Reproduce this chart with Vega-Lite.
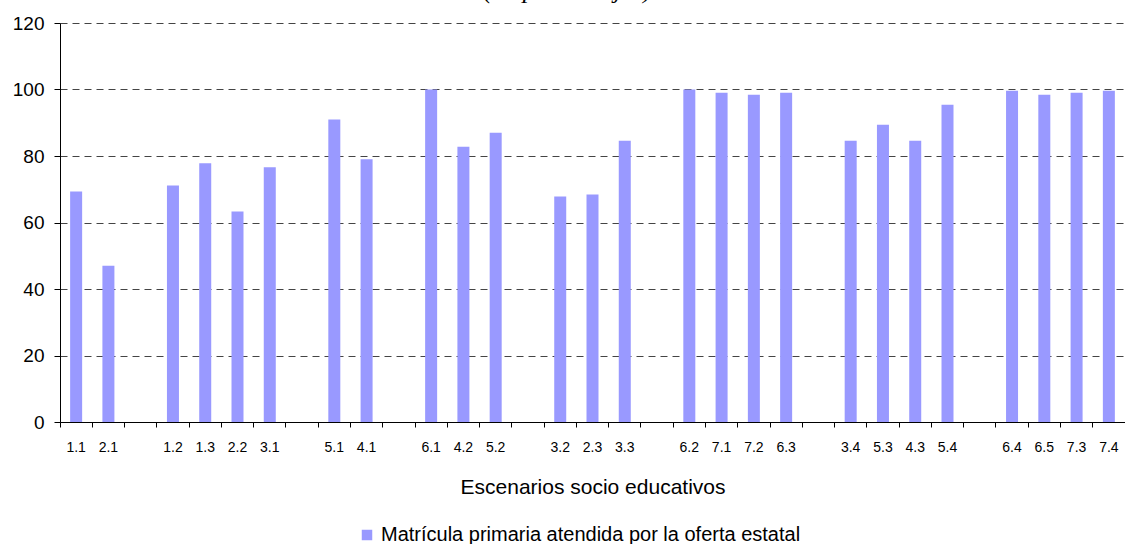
{
  "$schema": "https://vega.github.io/schema/vega-lite/v6.json",
  "width": 1065,
  "height": 399,
  "autosize": {"type": "none"},
  "padding": {"left": 60, "top": 23, "right": 0, "bottom": 122},
  "background": "white",
  "title": {
    "text": "(en porcentajes)",
    "font": "Liberation Serif",
    "fontStyle": "italic",
    "fontWeight": "normal",
    "fontSize": 26,
    "color": "black",
    "baseline": "alphabetic",
    "offset": -10,
    "dx": -25
  },
  "data": {
    "values": [
      {"escenario": "1.1", "valor": 69.3},
      {"escenario": "2.1", "valor": 47.0},
      {"escenario": "1.2", "valor": 71.1},
      {"escenario": "1.3", "valor": 77.8},
      {"escenario": "2.2", "valor": 63.3},
      {"escenario": "3.1", "valor": 76.6},
      {"escenario": "5.1", "valor": 91.0},
      {"escenario": "4.1", "valor": 79.0},
      {"escenario": "6.1", "valor": 100.0},
      {"escenario": "4.2", "valor": 82.8},
      {"escenario": "5.2", "valor": 87.0},
      {"escenario": "3.2", "valor": 67.8},
      {"escenario": "2.3", "valor": 68.4},
      {"escenario": "3.3", "valor": 84.6},
      {"escenario": "6.2", "valor": 100.0},
      {"escenario": "7.1", "valor": 99.0},
      {"escenario": "7.2", "valor": 98.4},
      {"escenario": "6.3", "valor": 99.0},
      {"escenario": "3.4", "valor": 84.6},
      {"escenario": "5.3", "valor": 89.4},
      {"escenario": "4.3", "valor": 84.6},
      {"escenario": "5.4", "valor": 95.4},
      {"escenario": "6.4", "valor": 99.6},
      {"escenario": "6.5", "valor": 98.4},
      {"escenario": "7.3", "valor": 99.0},
      {"escenario": "7.4", "valor": 99.6}
    ]
  },
  "mark": {"type": "bar", "size": 12},
  "encoding": {
    "x": {
      "field": "escenario",
      "type": "nominal",
      "scale": {
        "domain": ["1.1", "2.1", "g1", "1.2", "1.3", "2.2", "3.1", "g2", "5.1", "4.1", "g3", "6.1", "4.2", "5.2", "g4", "3.2", "2.3", "3.3", "g5", "6.2", "7.1", "7.2", "6.3", "g6", "3.4", "5.3", "4.3", "5.4", "g7", "6.4", "6.5", "7.3", "7.4"],
        "paddingInner": 0,
        "paddingOuter": 0
      },
      "axis": {
        "title": "Escenarios socio educativos",
        "titleFont": "Liberation Sans",
        "titleFontSize": 21,
        "titleFontWeight": "normal",
        "titleColor": "black",
        "titlePadding": 22,
        "labelExpr": "indexof(datum.value, 'g') == 0 ? '' : datum.value",
        "labelAngle": 0,
        "labelFont": "Liberation Sans",
        "labelFontSize": 14,
        "labelColor": "black",
        "labelPadding": 13,
        "bandPosition": 0,
        "tickSize": 5,
        "tickColor": "black",
        "domainColor": "black",
        "grid": false
      }
    },
    "y": {
      "field": "valor",
      "type": "quantitative",
      "scale": {"domain": [0, 120], "nice": false},
      "axis": {
        "title": null,
        "values": [0, 20, 40, 60, 80, 100, 120],
        "labelFont": "Liberation Sans",
        "labelFontSize": 19,
        "labelColor": "black",
        "labelPadding": 10,
        "tickSize": 6,
        "tickColor": "black",
        "domainColor": "black",
        "grid": true,
        "gridColor": "#444444",
        "gridDash": [7, 5],
        "gridWidth": 1
      }
    },
    "color": {
      "datum": "Matrícula primaria atendida por la oferta estatal",
      "type": "nominal",
      "scale": {"range": ["#9999FF"]},
      "legend": {
        "title": null,
        "orient": "none",
        "legendX": 297,
        "legendY": 502,
        "symbolType": "square",
        "symbolSize": 110,
        "labelFont": "Liberation Sans",
        "labelFontSize": 20,
        "labelColor": "black",
        "labelOffset": 4,
        "labelLimit": 1000
      }
    }
  },
  "config": {"view": {"stroke": null}}
}
